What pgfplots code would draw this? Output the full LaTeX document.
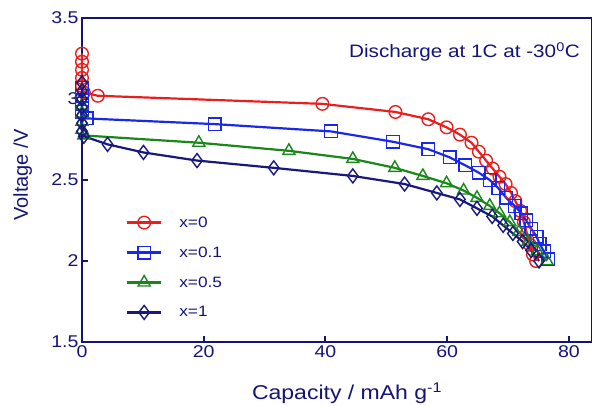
\documentclass[border=0pt]{standalone}
\usepackage{pgfplots}
\pgfplotsset{compat=1.18}
\usepackage{fontspec}
\setmainfont{Liberation Sans}[FakeStretch=1.15]
\newfontfamily\plainsans{Liberation Sans}
\definecolor{navyc}{RGB}{20,20,120}
\definecolor{redc}{RGB}{235,30,30}
\definecolor{bluec}{RGB}{25,40,235}
\definecolor{greenc}{RGB}{25,135,25}
\definecolor{dnavy}{RGB}{25,25,125}
\begin{document}
\begin{tikzpicture}
\begin{axis}[
  scale only axis, width=510pt, height=324pt,
  xmin=0, xmax=83.8, ymin=1.5, ymax=3.5,
  clip=false,
  axis line style={navyc, line width=2.2pt},
  xtick={0,20,40,60,80}, ytick={1.5,2,2.5,3,3.5},
  tick align=inside, xtick pos=bottom, ytick pos=left,
  major tick length=6pt,
  every tick/.style={navyc, line width=2pt},
  /pgf/number format/assume math mode=true,
  tick label style={font=\fontsize{17}{20}\selectfont, text=navyc},
  xlabel={Capacity / mAh g\textsuperscript{-1}},
  ylabel={Voltage /V},
  xlabel style={font=\fontsize{20}{24}\selectfont, text=navyc, at={(axis description cs:0.5196,-0.179)}, anchor=base},
  ylabel style={font=\plainsans\fontsize{20}{24}\selectfont, text=navyc, at={(axis description cs:-0.106,0.515)}, anchor=base},
  legend style={at={(0.08,0.40)}, anchor=north west, draw=none, fill=none,
    font=\fontsize{15}{18}\selectfont, text=navyc, row sep=14pt,
    /tikz/every odd column/.append style={column sep=15pt}},
  legend cell align=left,
  legend image code/.code={\draw[mark repeat=2,mark phase=2] plot coordinates {(0cm,0cm) (0.6cm,0cm) (1.2cm,0cm)};},
  every axis plot/.append style={line width=2.2pt, mark options={solid, fill=white, line width=1.4pt}},
]
\addplot[color=redc, mark=o, mark size=6.3pt] coordinates {
(0,3.28) (0,3.23) (0,3.18) (0,3.13) (0,3.08) (0.3,3.04) (2.6,3.02) (39.5,2.97) (51.5,2.92) (56.9,2.875) (59.9,2.825) (62.1,2.78) (64.0,2.73) (65.2,2.675) (66.4,2.62) (67.5,2.57) (68.6,2.52) (69.6,2.475) (70.5,2.42) (71.2,2.37) (72.0,2.31) (72.6,2.24) (73.1,2.17) (73.6,2.10) (74.1,2.04) (74.6,2.0)};
\addlegendentry{x=0}
\addplot[color=bluec, mark=square, mark size=6.3pt] coordinates {
(0,3.07) (0,3.02) (0,2.97) (0,2.92) (0.8,2.88) (21.8,2.845) (40.9,2.80) (51.1,2.736) (56.9,2.69) (60.4,2.64) (63.0,2.59) (65.2,2.545) (67.0,2.5) (68.4,2.45) (69.7,2.39) (71.1,2.34) (72.2,2.295) (73.0,2.25) (73.8,2.2) (74.7,2.15) (75.2,2.105) (75.9,2.06) (76.6,2.01)};
\addlegendentry{x=0.1}
\addplot[color=greenc, mark=triangle, mark size=7pt] coordinates {
(0,2.96) (0,2.91) (0,2.86) (0,2.81) (0.3,2.775) (19.2,2.73) (34,2.68) (44.5,2.63) (51.4,2.575) (56.0,2.525) (59.9,2.48) (62.7,2.435) (64.9,2.39) (67.0,2.34) (68.6,2.295) (70.3,2.24) (71.8,2.18) (73.3,2.12) (74.8,2.06) (76.4,2.0)};
\addlegendentry{x=0.5}
\addplot[color=dnavy, mark=diamond, mark size=7pt] coordinates {
(0,3.10) (0,3.05) (0,3.00) (0,2.95) (0,2.90) (0,2.85) (0,2.80) (0.3,2.77) (4.2,2.72) (10.1,2.67) (18.9,2.62) (31.5,2.575) (44.5,2.525) (53.0,2.475) (58.3,2.42) (62.1,2.38) (64.9,2.325) (67.4,2.275) (69.2,2.22) (70.8,2.17) (72.4,2.12) (73.8,2.065) (75.1,2.0)};
\addlegendentry{x=1}
\node[anchor=east, text=navyc, font=\fontsize{18}{21}\selectfont, inner sep=0pt] at ([xshift=-12pt,yshift=-34pt]rel axis cs:1,1) {Discharge at 1C at -30\textsuperscript{0}C};
\end{axis}
\pgfresetboundingbox
\path (current axis.south west) ++(-82pt,-64pt) rectangle ++(592pt,406pt);
\end{tikzpicture}
\end{document}
